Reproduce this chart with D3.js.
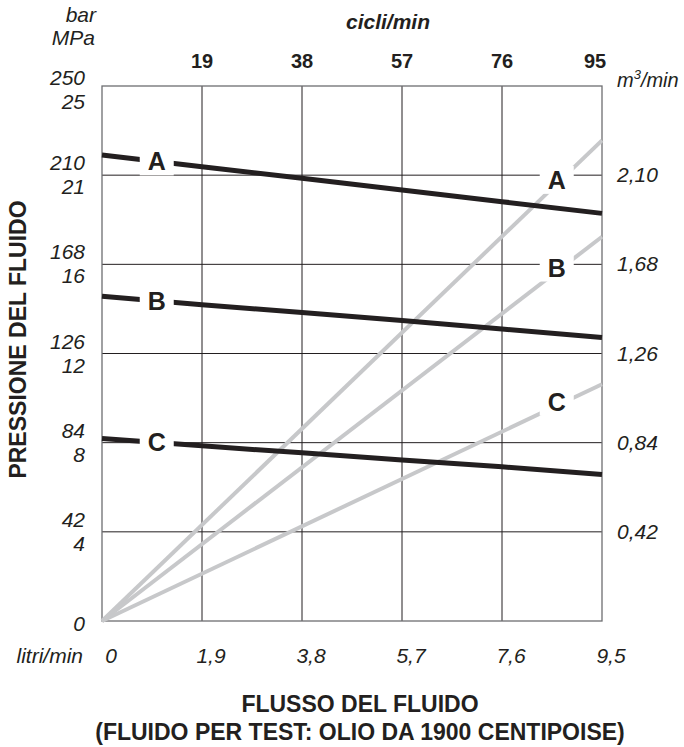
<!DOCTYPE html>
<html>
<head>
<meta charset="utf-8">
<script src="https://cdn.jsdelivr.net/npm/d3@7"></script>
<style>
  body { margin: 0; background: #fff; }
  text { font-family: "Liberation Sans", Arial, sans-serif; fill: #231f20; }
</style>
</head>
<body>
<div id="chart"></div>
<script>
// assi
const cicli = [0, 19, 38, 57, 76, 95];
const cicliLabels = ["19", "38", "57", "76", "95"];
const litriLabels = ["0", "1,9", "3,8", "5,7", "7,6", "9,5"];
const barTicks = [0, 42, 84, 126, 168, 210, 250];
const barLabels = ["0", "42", "84", "126", "168", "210", "250"];
const mpaLabels = ["", "4", "8", "12", "16", "21", "25"];
const m3Ticks = [42, 84, 126, 168, 210];
const m3Labels = ["0,42", "0,84", "1,26", "1,68", "2,10"];

// curve di pressione (bar) ai valori di cicli
const pressioneA = [219.5, 214, 208.5, 203, 197.5, 192];
const pressioneB = [153, 149, 145.3, 141.5, 137.5, 133.5];
const pressioneC = [86, 82.5, 79.2, 75.8, 72.6, 69];

// rette di portata (origine -> bordo destro)
const portataCicli = [0, 95];
const portataA = [0, 226.4];
const portataB = [0, 181];
const portataC = [0, 111.5];

const etichette = ["A", "B", "C"];
const etichettaPressioneX = 10.4;
const etichettaPortataX = 86.4;

var margin = {top: 86, right: 82, bottom: 126, left: 102},
    width = 684 - margin.left - margin.right,
    height = 747 - margin.top - margin.bottom;

const svg = d3.select('#chart')
    .append('svg')
        .attr('width', 684)
        .attr('height', 747)
    .append('g')
        .attr('transform', 'translate(' + margin.left + ',' + margin.top + ')');

const x = d3.scaleLinear().domain([0, 95]).range([0, width]);
const y = d3.scaleLinear().domain([0, 252]).range([height, 0]);

// griglia
svg.append('g')
    .selectAll('line')
    .data(cicli.slice(1, 5))
    .enter()
    .append('line')
    .attr('x1', d => x(d)).attr('x2', d => x(d))
    .attr('y1', 0).attr('y2', height)
    .attr('stroke', '#231f20').attr('stroke-width', 1);

svg.append('g')
    .selectAll('line')
    .data(barTicks.slice(1, 6))
    .enter()
    .append('line')
    .attr('x1', 0).attr('x2', width)
    .attr('y1', d => y(d)).attr('y2', d => y(d))
    .attr('stroke', '#231f20').attr('stroke-width', 1);

svg.append('rect')
    .attr('width', width).attr('height', height)
    .attr('fill', 'none')
    .attr('stroke', '#6d6e71').attr('stroke-width', 1.3);

// rette grigie
const portate = [portataA, portataB, portataC];
const linePortata = d3.line()
    .x((d, i) => x(portataCicli[i]))
    .y(d => y(d));

svg.append('g')
    .selectAll('path')
    .data(portate)
    .enter()
    .append('path')
    .attr('d', linePortata)
    .attr('fill', 'none')
    .attr('stroke', '#c7c8ca')
    .attr('stroke-width', 4);

// curve nere
const pressioni = [pressioneA, pressioneB, pressioneC];
const linePressione = d3.line()
    .x((d, i) => x(cicli[i]))
    .y(d => y(d));

svg.append('g')
    .selectAll('path')
    .data(pressioni)
    .enter()
    .append('path')
    .attr('d', linePressione)
    .attr('fill', 'none')
    .attr('stroke', '#231f20')
    .attr('stroke-width', 5);

// etichette con fondo bianco
function valoreA(serie, xs, xv) {
    const i = d3.bisectRight(xs, xv) - 1;
    const t = (xv - xs[i]) / (xs[i + 1] - xs[i]);
    return serie[i] + t * (serie[i + 1] - serie[i]);
}

const etichetteData = [];
pressioni.forEach((s, i) => etichetteData.push({
    text: etichette[i], cx: x(etichettaPressioneX), cy: y(valoreA(s, cicli, etichettaPressioneX))
}));
portate.forEach((s, i) => etichetteData.push({
    text: etichette[i], cx: x(etichettaPortataX), cy: y(valoreA(s, portataCicli, etichettaPortataX)) - 4
}));

const lab = svg.append('g')
    .selectAll('g')
    .data(etichetteData)
    .enter()
    .append('g')
    .attr('transform', d => 'translate(' + d.cx + ',' + d.cy + ')');

lab.append('rect')
    .attr('x', -17).attr('y', -14)
    .attr('width', 34).attr('height', 28)
    .attr('fill', '#fff');

lab.append('text')
    .attr('text-anchor', 'middle')
    .attr('dy', 9)
    .style('font-size', '25px')
    .style('font-weight', 'bold')
    .text(d => d.text);

// asse sinistro
const sx = svg.append('g');
sx.selectAll('.bar')
    .data(barTicks)
    .enter()
    .append('text')
    .attr('x', -17)
    .attr('y', (d, i) => i == 0 ? y(d) + 10 : y(d) - 5)
    .attr('text-anchor', 'end')
    .style('font-size', '21px')
    .style('font-style', 'italic')
    .text((d, i) => barLabels[i]);

sx.selectAll('.mpa')
    .data(barTicks)
    .enter()
    .append('text')
    .attr('x', -17)
    .attr('y', d => y(d) + 19)
    .attr('text-anchor', 'end')
    .style('font-size', '21px')
    .style('font-style', 'italic')
    .text((d, i) => mpaLabels[i]);

sx.append('text')
    .attr('x', -6).attr('y', -64)
    .attr('text-anchor', 'end')
    .style('font-size', '21px').style('font-style', 'italic')
    .text('bar');
sx.append('text')
    .attr('x', -7).attr('y', -41)
    .attr('text-anchor', 'end')
    .style('font-size', '21px').style('font-style', 'italic')
    .text('MPa');

// asse destro
svg.append('g')
    .selectAll('text')
    .data(m3Ticks)
    .enter()
    .append('text')
    .attr('x', width + 15)
    .attr('y', d => y(d) + 7)
    .style('font-size', '21px')
    .style('font-style', 'italic')
    .text((d, i) => m3Labels[i]);

const m3 = svg.append('text')
    .attr('x', width + 15).attr('y', 1)
    .style('font-size', '20px').style('font-style', 'italic');
m3.append('tspan').text('m');
m3.append('tspan').attr('dy', -8).style('font-size', '13px').text('3');
m3.append('tspan').attr('dy', 8).text('/min');

// asse superiore
svg.append('g')
    .selectAll('text')
    .data(cicli.slice(1))
    .enter()
    .append('text')
    .attr('x', (d, i) => x(d) + (i == 4 ? -7 : 0))
    .attr('y', -18)
    .attr('text-anchor', 'middle')
    .style('font-size', '20px')
    .style('font-weight', 'bold')
    .text((d, i) => cicliLabels[i]);

svg.append('text')
    .attr('x', 286).attr('y', -57)
    .attr('text-anchor', 'middle')
    .style('font-size', '21px')
    .style('font-weight', 'bold')
    .style('font-style', 'italic')
    .text('cicli/min');

// asse inferiore
svg.append('g')
    .selectAll('text')
    .data(cicli)
    .enter()
    .append('text')
    .attr('x', d => x(d) + 9)
    .attr('y', height + 42)
    .attr('text-anchor', 'middle')
    .style('font-size', '21px')
    .style('font-style', 'italic')
    .text((d, i) => litriLabels[i]);

svg.append('text')
    .attr('x', -19).attr('y', height + 42)
    .attr('text-anchor', 'end')
    .style('font-size', '21px')
    .style('font-style', 'italic')
    .text('litri/min');

svg.append('text')
    .attr('x', 258).attr('y', height + 91)
    .attr('text-anchor', 'middle')
    .style('font-size', '23px')
    .style('font-weight', 'bold')
    .text('FLUSSO DEL FLUIDO');

svg.append('text')
    .attr('x', 258).attr('y', height + 119)
    .attr('text-anchor', 'middle')
    .style('font-size', '23px')
    .style('font-weight', 'bold')
    .text('(FLUIDO PER TEST: OLIO DA 1900 CENTIPOISE)');

svg.append('text')
    .attr('transform', 'translate(-76,' + (height / 2 - 14) + ') rotate(-90)')
    .attr('text-anchor', 'middle')
    .style('font-size', '23px')
    .style('font-weight', 'bold')
    .text('PRESSIONE DEL FLUIDO');
</script>
</body>
</html>
